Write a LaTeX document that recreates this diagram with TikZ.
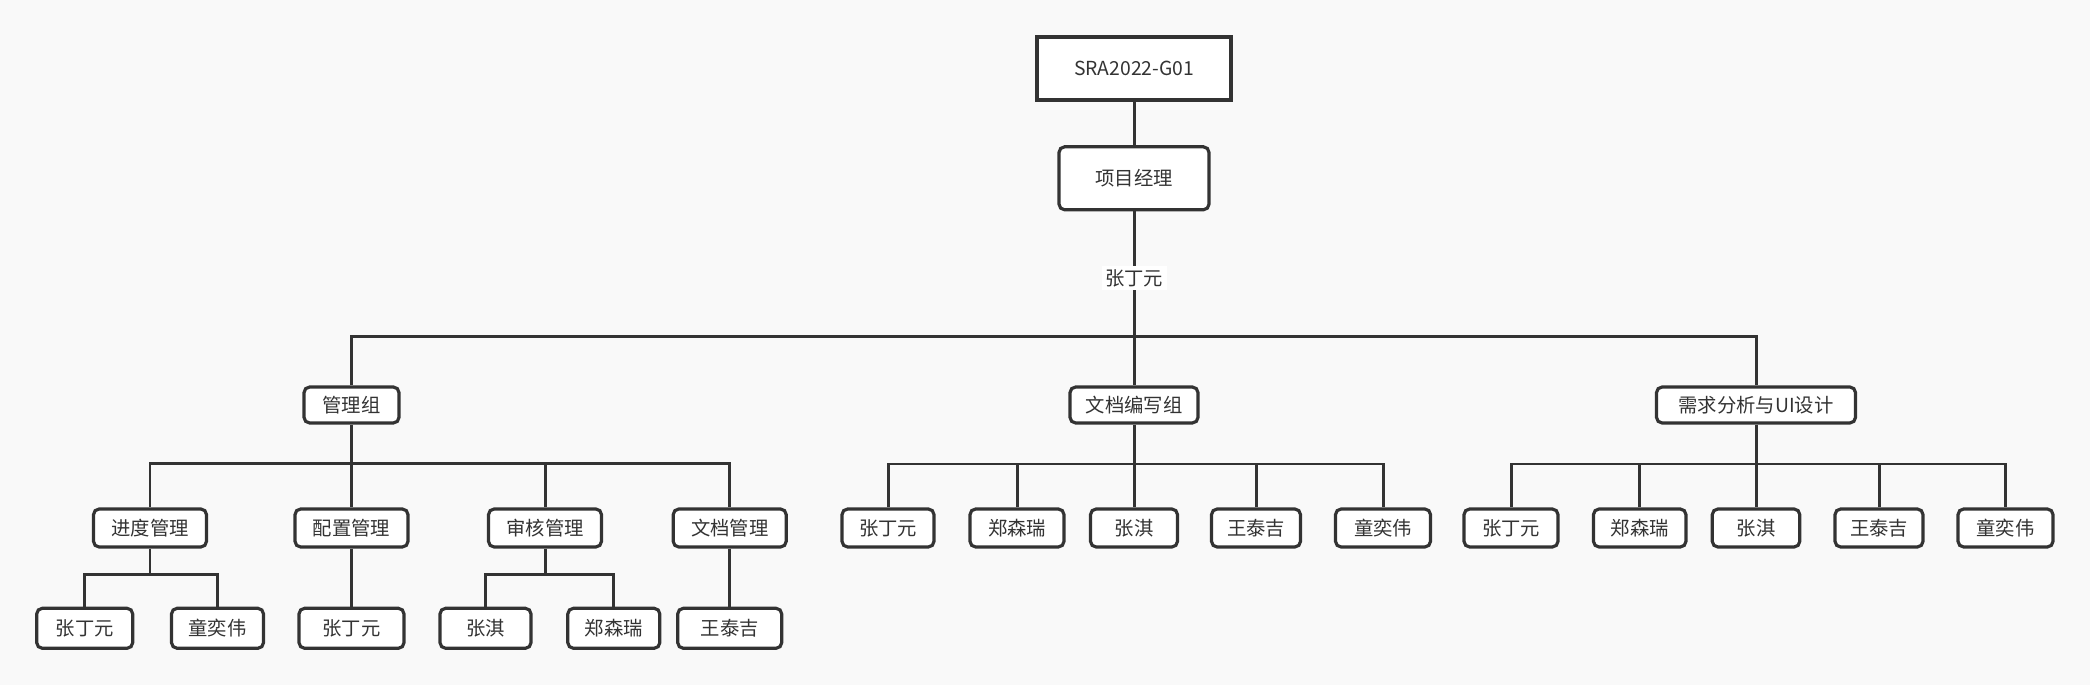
\documentclass[tikz,border=0pt]{standalone}
\usepackage{fontspec}
\setmainfont{Noto Sans CJK SC}
\usetikzlibrary{positioning, calc}
\definecolor{inkgray}{HTML}{333333}
\definecolor{pagegray}{HTML}{F9F9F9}
\tikzset{
    box/.style={draw=inkgray, line width=0.9pt, fill=white, rounded corners=1.6pt, text=inkgray,
        font=\fontsize{5.5}{6.6}\selectfont, inner sep=1pt, minimum height=0.38cm},
    topbox/.style={box, sharp corners, line width=1pt, minimum width=1.94cm, minimum height=0.63cm},
    group/.style={box, minimum height=0.36cm},
    member/.style={box, minimum width=0.93cm, minimum height=0.38cm},
    link/.style={draw=inkgray, line width=0.85pt},
    tag/.style={fill=white, text=inkgray, font=\fontsize{5.5}{6.6}\selectfont, inner sep=1pt}
}

\begin{document}
\begin{tikzpicture}
    \useasboundingbox (0,0) rectangle (20.90,-6.85);
    \fill[pagegray] (0,0) rectangle (20.90,-6.85);
    % ---- team and project manager
    \node[topbox] (team) at (11.34,-0.683) {SRA2022-G01};
    \node[box, minimum width=1.50cm, minimum height=0.63cm] (pm) at (11.34,-1.783) {项目经理};
    % ---- groups
    \node[group, minimum width=0.95cm] (mgmt) at (3.515,-4.05) {管理组};
    \node[group, minimum width=1.28cm] (docw) at (11.34,-4.05) {文档编写组};
    \node[group, minimum width=1.99cm] (req) at (17.56,-4.05) {需求分析与UI设计};
    % ---- management subgroups
    \foreach \x/\n/\t in {1.50/sched/进度管理, 3.515/conf/配置管理, 5.45/audit/审核管理, 7.297/mdoc/文档管理}
        \node[box, minimum width=1.13cm] (\n) at (\x,-5.28) {\t};
    % ---- members of the writing group and the requirements group
    \foreach \x/\w/\n/\t in {8.88/0.92/d1/张丁元, 10.17/0.94/d2/郑森瑞, 11.34/0.87/d3/张淇, 12.56/0.89/d4/王泰吉, 13.83/0.95/d5/童奕伟}
        \node[member, minimum width=\w cm] (\n) at (\x,-5.28) {\t};
    \foreach \x/\w/\n/\t in {15.11/0.94/r1/张丁元, 16.397/0.925/r2/郑森瑞, 17.56/0.875/r3/张淇, 18.79/0.88/r4/王泰吉, 20.055/0.95/r5/童奕伟}
        \node[member, minimum width=\w cm] (\n) at (\x,-5.28) {\t};
    % ---- members of the management subgroups
    \foreach \x/\w/\n/\t in {0.847/0.96/s1/张丁元, 2.175/0.92/s2/童奕伟, 3.515/1.05/c1/张丁元, 4.855/0.91/a1/张淇, 6.138/0.92/a2/郑森瑞, 7.297/1.04/m1/王泰吉}
        \node[member, minimum width=\w cm, minimum height=0.40cm] (\n) at (\x,-6.283) {\t};

    % ---- top connectors
    \draw[link] (team) -- (pm);
    \draw[link] (pm) -- (docw);
    \coordinate (bar) at (11.34,-3.37);
    \draw[link] (mgmt.north) |- (bar) -| (req.north);
    \node[tag] (pmname) at (11.34,-2.78) {张丁元};
    % ---- management group
    \coordinate (mbar) at (3.515,-4.635);
    \draw[link] (mgmt) -- (conf);
    \draw[link] (sched.north) |- (mbar) -| (mdoc.north);
    \draw[link] (audit.north) -- (audit.north |- mbar);
    % ---- writing group
    \coordinate (dbar) at (11.34,-4.64);
    \draw[link] (docw) -- (d3);
    \draw[link] (d1.north) |- (dbar) -| (d5.north);
    \foreach \n in {d2,d4} \draw[link] (\n.north) -- (\n.north |- dbar);
    % ---- requirements group
    \coordinate (rbar) at (17.56,-4.64);
    \draw[link] (req) -- (r3);
    \draw[link] (r1.north) |- (rbar) -| (r5.north);
    \foreach \n in {r2,r4} \draw[link] (\n.north) -- (\n.north |- rbar);
    % ---- management subgroups
    \coordinate (sbar) at (1.50,-5.743);
    \draw[link] (sched.south) -- (sched.south |- sbar);
    \draw[link] (s1.north) |- (sbar) -| (s2.north);
    \draw[link] (conf) -- (c1);
    \coordinate (abar) at (5.45,-5.743);
    \draw[link] (audit.south) -- (audit.south |- abar);
    \draw[link] (a1.north) |- (abar) -| (a2.north);
    \draw[link] (mdoc) -- (m1);
\end{tikzpicture}
\end{document}
